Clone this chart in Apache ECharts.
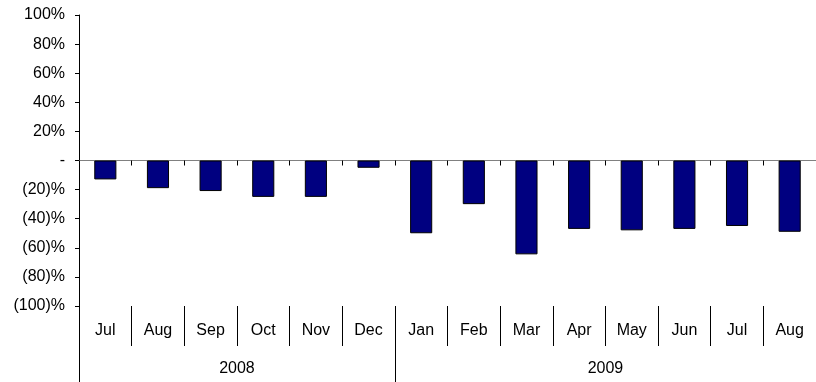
<!DOCTYPE html>
<html>
<head>
<meta charset="utf-8">
<style>
  html, body { margin: 0; padding: 0; background: #fff; }
  #chart { width: 816px; height: 382px; }
</style>
<script src="https://cdn.jsdelivr.net/npm/echarts@6/dist/echarts.min.js"></script>
</head>
<body>
<div id="chart"></div>
<script>
// Monthly change, Jul 2008 – Aug 2009
const months = ['Jul', 'Aug', 'Sep', 'Oct', 'Nov', 'Dec', 'Jan', 'Feb', 'Mar', 'Apr', 'May', 'Jun', 'Jul', 'Aug'];
const changePct = [-13, -19, -21, -25, -25, -5, -50, -30, -64.5, -47, -48, -47, -45, -49];
const years = ['2008', '2009'];
const monthsPerYear = [6, 8];
const yTicks = [-100, -80, -60, -40, -20, 0, 20, 40, 60, 80, 100];

// Year group boundaries and centres, in category units
const yearBounds = [0];
monthsPerYear.forEach(function (n, i) { yearBounds.push(yearBounds[i] + n); });
const yearCentres = years.map(function (_, i) { return (yearBounds[i] + yearBounds[i + 1]) / 2; });

function pctLabel(v) {
  if (v === 0) return '-';
  return v < 0 ? '(' + (-v) + ')%' : v + '%';
}

const FONT = 'Liberation Sans, Arial, sans-serif';
const chart = echarts.init(document.getElementById('chart'), null, { renderer: 'canvas' });

chart.setOption({
  animation: false,
  backgroundColor: '#fff',
  grid: { left: 79, top: 15, width: 742, height: 291, containLabel: false },
  yAxis: {
    type: 'value',
    min: yTicks[0],
    max: yTicks[yTicks.length - 1],
    interval: 20,
    axisLine: { show: true, lineStyle: { color: '#000', width: 1 } },
    axisTick: { show: true, length: 4, lineStyle: { color: '#000' } },
    splitLine: { show: false },
    axisLabel: {
      margin: 14,
      color: '#000',
      fontFamily: FONT,
      fontSize: 16,
      formatter: pctLabel
    }
  },
  xAxis: [
    {
      // zero line with short boundary ticks
      type: 'category',
      data: months,
      boundaryGap: true,
      axisLine: { show: true, onZero: true, lineStyle: { color: '#808080', width: 1 } },
      axisTick: { show: true, length: 5, interval: 0, lineStyle: { color: '#000' } },
      axisLabel: { show: false },
      splitLine: { show: false }
    },
    {
      // month row with separators
      type: 'category',
      data: months,
      position: 'bottom',
      boundaryGap: true,
      axisLine: { show: false, onZero: false },
      axisTick: { show: true, length: 40, interval: 0, lineStyle: { color: '#000' } },
      axisLabel: {
        interval: 0,
        margin: 17,
        color: '#000',
        fontFamily: FONT,
        fontSize: 16
      },
      splitLine: { show: false }
    },
    {
      // year row with group separators
      type: 'value',
      position: 'bottom',
      min: 0,
      max: months.length,
      axisLine: { show: false, onZero: false },
      splitLine: { show: false },
      axisTick: { show: true, length: 76, customValues: yearBounds, lineStyle: { color: '#000' } },
      axisLabel: {
        margin: 55,
        color: '#000',
        fontFamily: FONT,
        fontSize: 16,
        customValues: yearCentres,
        formatter: function (v) {
          const i = yearCentres.indexOf(v);
          return i >= 0 ? years[i] : '';
        }
      }
    }
  ],
  series: [
    {
      type: 'bar',
      xAxisIndex: 0,
      data: changePct,
      barWidth: '42%',
      itemStyle: { color: '#000080', borderColor: '#000', borderWidth: 1 }
    }
  ]
});
</script>
</body>
</html>
